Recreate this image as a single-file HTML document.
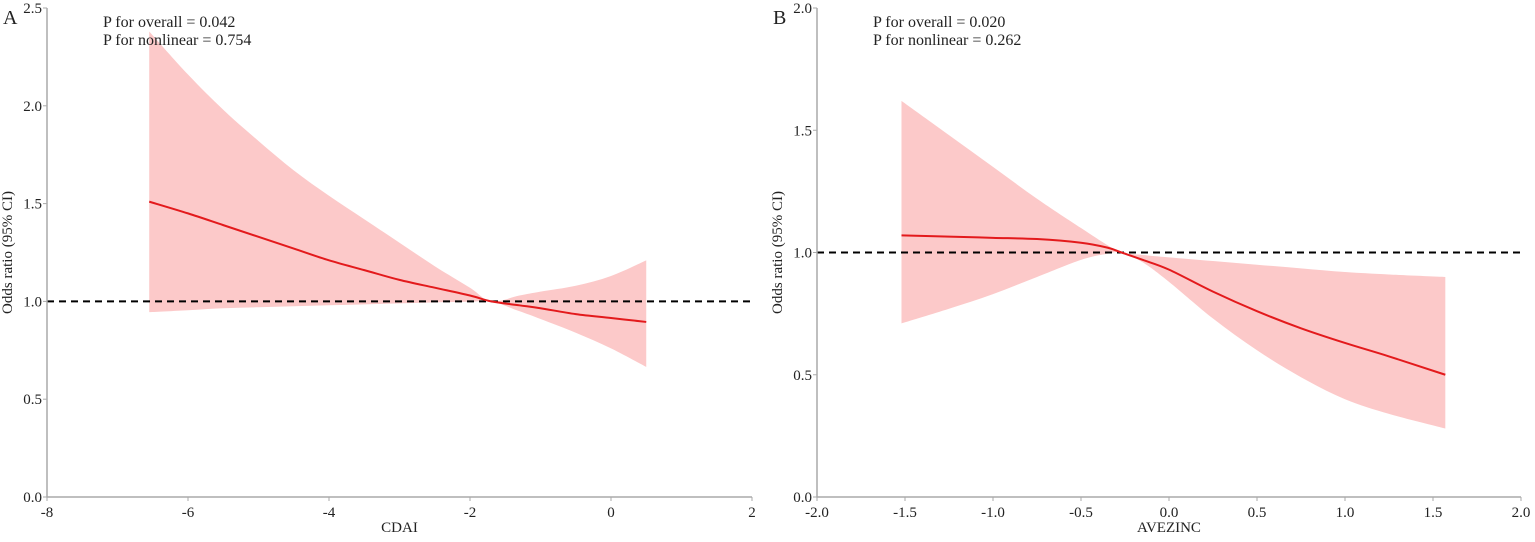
<!DOCTYPE html>
<html><head><meta charset="utf-8"><style>
body{margin:0;background:#fff;font-family:"Liberation Serif",serif;}
svg text{font-family:"Liberation Serif",serif;fill:#222;}
</style></head><body>
<svg width="1535" height="537">
<g id="A"></g>
<g id="B"></g>
</svg>
<script>
// Panel A data
const aX=[-6.55,-6,-5.5,-5,-4.5,-4,-3.5,-3,-2.5,-2,-1.7,-1.3,-1,-0.5,0,0.5];
const aMid=[1.51,1.45,1.39,1.33,1.27,1.21,1.16,1.11,1.07,1.03,1.0,0.98,0.965,0.935,0.915,0.895];
const aUp=[2.38,2.16,1.98,1.82,1.67,1.54,1.42,1.30,1.18,1.07,1.0,1.03,1.05,1.08,1.13,1.21];
const aLo=[0.945,0.955,0.965,0.97,0.975,0.98,0.985,0.99,0.995,0.998,1.0,0.95,0.91,0.84,0.76,0.665];
const aXTicks=[-8,-6,-4,-2,0,2];
const aYTicks=[0.0,0.5,1.0,1.5,2.0,2.5];
// Panel B data
const bX=[-1.52,-1.25,-1,-0.75,-0.5,-0.35,-0.27,-0.15,0,0.25,0.5,0.75,1,1.25,1.57];
const bMid=[1.07,1.065,1.06,1.055,1.04,1.02,1.0,0.97,0.93,0.84,0.76,0.69,0.63,0.575,0.50];
const bUp=[1.62,1.48,1.35,1.22,1.10,1.03,1.0,0.99,0.98,0.965,0.95,0.935,0.92,0.91,0.90];
const bLo=[0.71,0.77,0.83,0.90,0.97,0.995,1.0,0.96,0.88,0.73,0.60,0.49,0.40,0.34,0.28];
const bXTicks=[-2.0,-1.5,-1.0,-0.5,0.0,0.5,1.0,1.5,2.0];
const bYTicks=[0.0,0.5,1.0,1.5,2.0];

const NS="http://www.w3.org/2000/svg";
function mk(p,t,a){const e=document.createElementNS(NS,t);for(const k in a)e.setAttribute(k,a[k]);p.appendChild(e);return e;}
function smooth(pts){
  let d="";
  for(let i=0;i<pts.length-1;i++){
    const p0=pts[Math.max(0,i-1)],p1=pts[i],p2=pts[i+1],p3=pts[Math.min(pts.length-1,i+2)];
    const c1=[p1[0]+(p2[0]-p0[0])/6,p1[1]+(p2[1]-p0[1])/6];
    const c2=[p2[0]-(p3[0]-p1[0])/6,p2[1]-(p3[1]-p1[1])/6];
    d+=`C${c1[0]},${c1[1]} ${c2[0]},${c2[1]} ${p2[0]},${p2[1]}`;
  }
  return d;
}
function panel(g,cfg){
  const sx=v=>cfg.x0+(v-cfg.xmin)/(cfg.xmax-cfg.xmin)*(cfg.x1-cfg.x0);
  const sy=v=>cfg.y0-(v-cfg.ymin)/(cfg.ymax-cfg.ymin)*(cfg.y0-cfg.y1);
  const up=cfg.X.map((x,i)=>[sx(x),sy(cfg.up[i])]);
  const lo=cfg.X.map((x,i)=>[sx(x),sy(cfg.lo[i])]).reverse();
  const mid=cfg.X.map((x,i)=>[sx(x),sy(cfg.mid[i])]);
  const d=`M${up[0][0]},${up[0][1]}`+smooth(up)+`L${lo[0][0]},${lo[0][1]}`+smooth(lo)+"Z";
  const band=mk(g,"path",{d:d,fill:"#fcc9c9"});
  
  
  const ref=mk(g,"line",{x1:cfg.x0,x2:cfg.x1,y1:sy(1),y2:sy(1),stroke:"#000","stroke-width":2,"stroke-dasharray":"7,5"});
  
  
  const ln=mk(g,"path",{d:`M${mid[0][0]},${mid[0][1]}`+smooth(mid),fill:"none",stroke:"#e31a1c","stroke-width":2});
  
  
  const ax=mk(g,"path",{d:`M${cfg.x0},${cfg.y1}V${cfg.y0}H${cfg.x1}`,fill:"none",stroke:"#aaa","stroke-width":1.5});
  
  
  cfg.xt.forEach(v=>{mk(g,"line",{x1:sx(v),x2:sx(v),y1:cfg.y0,y2:cfg.y0+4,stroke:"#aaa"});
    const t=mk(g,"text",{x:sx(v),y:cfg.y0+20,"text-anchor":"middle","font-size":15});t.textContent=cfg.fmtx(v);
    
    });
  cfg.yt.forEach(v=>{mk(g,"line",{x1:cfg.x0-4,x2:cfg.x0,y1:sy(v),y2:sy(v),stroke:"#aaa"});
    const t=mk(g,"text",{x:cfg.x0-5,y:sy(v)+5,"text-anchor":"end","font-size":15});t.textContent=v.toFixed(1);
    
    });
  const xt=mk(g,"text",{x:(cfg.x0+cfg.x1)/2,y:cfg.y0+35,"text-anchor":"middle","font-size":15});xt.textContent=cfg.xlabel;
  
  
  const yt=mk(g,"text",{x:0,y:0,"text-anchor":"middle","font-size":15,transform:`translate(${cfg.x0-35},${(cfg.y0+cfg.y1)/2}) rotate(-90)`});yt.textContent="Odds ratio (95% CI)";
  
  
  const pl=mk(g,"text",{x:cfg.x0-44,y:24,"font-size":20});pl.textContent=cfg.letter;
  
  
  cfg.notes.forEach((n,i)=>{const t=mk(g,"text",{x:cfg.x0+56,y:27+i*18,"font-size":16});t.textContent=n;
    
    });
}
panel(document.getElementById("A"),{x0:47,x1:752,y0:497,y1:8,xmin:-8,xmax:2,ymin:0,ymax:2.5,X:aX,mid:aMid,up:aUp,lo:aLo,xt:aXTicks,yt:aYTicks,fmtx:v=>String(v),xlabel:"CDAI",letter:"A",notes:["P for overall = 0.042","P for nonlinear = 0.754"]});
panel(document.getElementById("B"),{x0:817,x1:1521,y0:497,y1:8,xmin:-2,xmax:2,ymin:0,ymax:2,X:bX,mid:bMid,up:bUp,lo:bLo,xt:bXTicks,yt:bYTicks,fmtx:v=>v.toFixed(1),xlabel:"AVEZINC",letter:"B",notes:["P for overall = 0.020","P for nonlinear = 0.262"]});
</script>
</body></html>
